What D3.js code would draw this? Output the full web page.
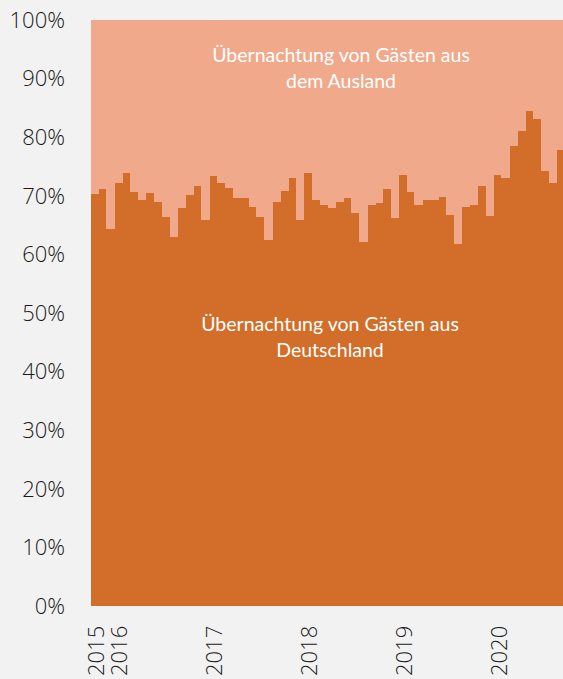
<!DOCTYPE html>
<html>
<head>
<meta charset="utf-8">
<script src="https://cdn.jsdelivr.net/npm/d3@7"></script>
<style>
  body { margin: 0; background: #f2f2f2; }
  svg { display: block; }
</style>
</head>
<body>
<svg id="chart"></svg>
<script>
var width = 563,
    height = 679;

// Monate Okt 2015 bis Sep 2020
var months = ["2015-10","2015-11","2015-12",
  "2016-01","2016-02","2016-03","2016-04","2016-05","2016-06","2016-07","2016-08","2016-09","2016-10","2016-11","2016-12",
  "2017-01","2017-02","2017-03","2017-04","2017-05","2017-06","2017-07","2017-08","2017-09","2017-10","2017-11","2017-12",
  "2018-01","2018-02","2018-03","2018-04","2018-05","2018-06","2018-07","2018-08","2018-09","2018-10","2018-11","2018-12",
  "2019-01","2019-02","2019-03","2019-04","2019-05","2019-06","2019-07","2019-08","2019-09","2019-10","2019-11","2019-12",
  "2020-01","2020-02","2020-03","2020-04","2020-05","2020-06","2020-07","2020-08","2020-09"];

// Anteil Übernachtungen von Gästen aus Deutschland (%)
var inland = [70.3, 71.2, 64.4,
  72.2, 73.9, 70.7, 69.3, 70.5, 69.0, 66.4, 63.0, 67.9, 70.2, 71.7, 65.9,
  73.4, 72.1, 71.4, 69.6, 69.6, 68.1, 66.4, 62.5, 68.9, 70.9, 73.1, 65.9,
  73.9, 69.2, 68.5, 68.0, 68.9, 69.6, 67.1, 62.1, 68.4, 68.8, 71.2, 66.2,
  73.6, 70.6, 68.4, 69.3, 69.3, 69.8, 66.7, 61.7, 68.1, 68.4, 71.7, 66.6,
  73.5, 73.0, 78.5, 81.1, 84.5, 83.1, 74.3, 72.2, 77.8];

// Anteil Gäste aus dem Ausland = Rest zu 100 %
var ausland = inland.map(function(v) { return 100 - v; });

var yTicks = [0, 10, 20, 30, 40, 50, 60, 70, 80, 90, 100];
var yearLabels = {"2015-10": "2015", "2016-01": "2016", "2017-01": "2017",
                  "2018-01": "2018", "2019-01": "2019", "2020-01": "2020"};

var colInland = '#d26e2a',
    colAusland = '#f0a98b';

var svg = d3.select('#chart')
  .attr('width', width)
  .attr('height', height);

svg.append('rect')
  .attr('width', width)
  .attr('height', height)
  .attr('fill', '#f2f2f2');

var x = d3.scaleBand()
  .domain(months)
  .range([90.5, 90.5 + months.length * 7.9])
  .padding(0);

var y = d3.scaleLinear()
  .domain([0, 100])
  .range([606, 20]);

var table = months.map(function(m, i) {
  return {month: m, inland: inland[i], ausland: ausland[i]};
});

var stack = d3.stack().keys(['inland', 'ausland']);
var series = stack(table);
var colors = {inland: colInland, ausland: colAusland};

var g = svg.append('g');

g.selectAll('g.series')
  .data(series)
  .join('g')
  .attr('class', 'series')
  .attr('fill', function(d) { return colors[d.key]; })
  .attr('shape-rendering', 'crispEdges')
  .selectAll('rect')
  .data(function(d) { return d; })
  .join('rect')
  .attr('x', function(d) { return x(d.data.month); })
  .attr('width', x.bandwidth() + 0.6)
  .attr('y', function(d) { return y(d[1]); })
  .attr('height', function(d) { return y(d[0]) - y(d[1]); });

// y axis labels
g.selectAll('text.ytick')
  .data(yTicks)
  .join('text')
  .attr('class', 'ytick')
  .attr('x', 65)
  .attr('y', function(d) { return y(d); })
  .attr('dy', '0.35em')
  .attr('text-anchor', 'end')
  .style('font-family', '"Open Sans", sans-serif')
  .style('font-weight', 300)
  .style('font-size', '22px')
  .style('fill', '#1a1a1a')
  .text(function(d) { return d + '%'; });

// x axis year labels (rotated)
g.selectAll('text.xtick')
  .data(months.filter(function(m) { return yearLabels[m]; }))
  .join('text')
  .attr('class', 'xtick')
  .attr('transform', function(d) {
    return 'translate(' + (x(d) + x.bandwidth() / 2 + 1.5) + ',676) rotate(-90)';
  })
  .attr('dy', '0.35em')
  .attr('text-anchor', 'start')
  .style('font-family', '"Open Sans", sans-serif')
  .style('font-weight', 300)
  .style('font-size', '22px')
  .style('fill', '#1a1a1a')
  .text(function(d) { return yearLabels[d]; });

// series labels inside the chart
function seriesLabel(lines, cx, y0) {
  g.append('text')
    .attr('text-anchor', 'middle')
    .style('font-family', 'Lato, sans-serif')
    .style('font-size', '19.5px')
    .style('fill', '#fff')
    .selectAll('tspan')
    .data(lines)
    .join('tspan')
    .attr('x', cx)
    .attr('y', function(d, i) { return y0 + i * 25.5; })
    .text(function(d) { return d; });
}

seriesLabel(['Übernachtung von Gästen aus', 'dem Ausland'], 341, 62);
seriesLabel(['Übernachtung von Gästen aus', 'Deutschland'], 330, 331);
</script>
</body>
</html>
